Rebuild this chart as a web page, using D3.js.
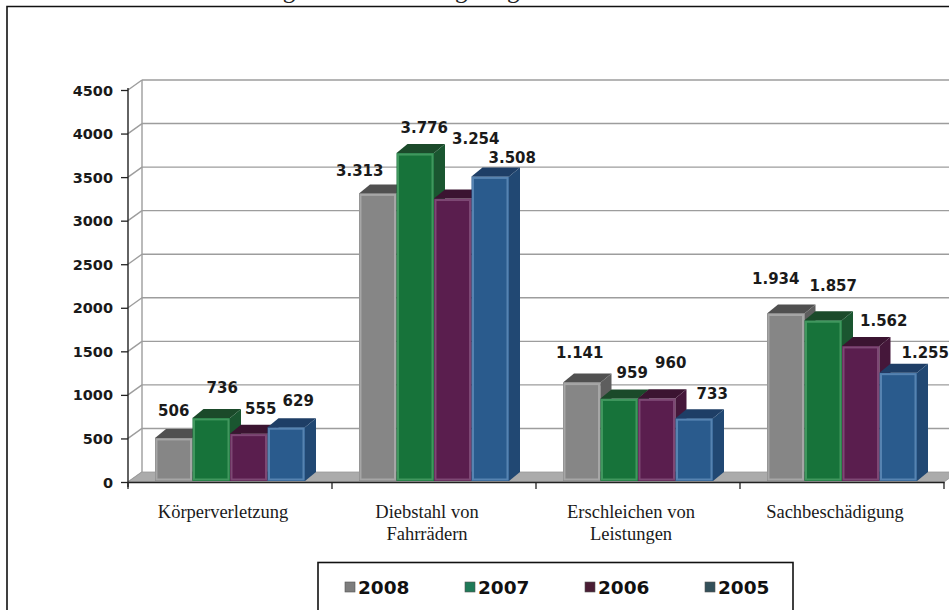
<!DOCTYPE html>
<html><head><meta charset="utf-8">
<script src="https://cdn.jsdelivr.net/npm/d3@7"></script>
<style>body{margin:0;background:#fff}svg{display:block}</style></head>
<body><svg id="c" width="949" height="610"></svg>
<script>
// ---- data ----
const categories = ["Körperverletzung", "Diebstahl von Fahrrädern", "Erschleichen von Leistungen", "Sachbeschädigung"];
const categoryLines = [["Körperverletzung"], ["Diebstahl von", "Fahrrädern"], ["Erschleichen von", "Leistungen"], ["Sachbeschädigung"]];
const years = ["2008", "2007", "2006", "2005"];
const values2008 = [506, 3313, 1141, 1934];
const values2007 = [736, 3776, 959, 1857];
const values2006 = [555, 3254, 960, 1562];
const values2005 = [629, 3508, 733, 1255];
const yTickValues = [0, 500, 1000, 1500, 2000, 2500, 3000, 3500, 4000, 4500];
const titleText = "Abb. 4: Grafische Darstellung der Entwicklung ausgewählter Delikte";

// ---- layout / style (not data) ----
const colors = {
  "2008": {front: "#868686", top: "#505050", side: "#5e5e5e", edge: "#b4b4b4", legend: "#7d7d7d"},
  "2007": {front: "#17733a", top: "#1b4a2a", side: "#1a5630", edge: "#52a66e", legend: "#1f7a58"},
  "2006": {front: "#5a1e4e", top: "#3b1431", side: "#45173a", edge: "#8c5a84", legend: "#4a1d34"},
  "2005": {front: "#2a5b8d", top: "#1e3e66", side: "#214873", edge: "#6a94c0", legend: "#33505a"}
};
// manual label nudges [dx, dy] relative to default placement
const labelNudge = [
  [[0, -13], [11, -16], [12, -11], [12, -12]],
  [[-18, -8], [9, -11], [23, -46], [22, -4]],
  [[-2, -16], [13, -11], [14, -21], [18, -10]],
  [[-10, -21], [10, -20], [23, -11], [27, -6]]
];

const series = {"2008": values2008, "2007": values2007, "2006": values2006, "2005": values2005};
const svg = d3.select("#c");
svg.append("rect").attr("width", 949).attr("height", 610).attr("fill", "#fff");

const x0 = d3.scaleBand().domain(categories).range([128, 944]).padding(0);
const x1 = d3.scaleBand().domain(years).range([27, 177]).padding(0);
const y = d3.scaleLinear().domain([0, 4500]).range([482, 90]);
const W = {dx: 14, dy: -10};   // wall depth
const D = {dx: 11, dy: -9};    // bar depth
const fmt = d3.formatLocale({decimal: ",", thousands: ".", grouping: [3], currency: ["", "€"]}).format(",d");

// title (cut at top edge, as in the reference)
svg.append("text").attr("x", -6).attr("y", -2.5)
  .attr("font-family", "Liberation Serif, serif").attr("font-size", 25).attr("fill", "#222")
  .text(titleText);

// frame
svg.append("path").attr("d", "M7,620 L7,6.5 L960,6.5").attr("fill", "none").attr("stroke", "#111").attr("stroke-width", 1.6);

// walls & gridlines
const grid = svg.append("g").attr("stroke", "#9d9d9d").attr("stroke-width", 1.4).attr("fill", "none");
grid.append("line").attr("x1", 128 + W.dx).attr("x2", 128 + W.dx).attr("y1", y(4500) + W.dy).attr("y2", y(0) + W.dy);
yTickValues.forEach(t => {
  grid.append("line").attr("x1", 128).attr("y1", y(t)).attr("x2", 128 + W.dx).attr("y2", y(t) + W.dy);
  if (t > 0) grid.append("line").attr("x1", 128 + W.dx).attr("y1", y(t) + W.dy).attr("x2", 960).attr("y2", y(t) + W.dy);
});

// floor
const [fx0, fx1] = x0.range();
svg.append("path")
  .attr("d", `M${fx0},${y(0)} L${fx1},${y(0)} L${fx1 + W.dx},${y(0) + W.dy} L${fx0 + W.dx},${y(0) + W.dy} Z`)
  .attr("fill", "#ababab").attr("stroke", "#9a9a9a").attr("stroke-width", 0.8);

// bars
categories.forEach((c, ci) => {
  const g = svg.append("g");
  years.forEach(yr => {
    const v = series[yr][ci];
    const xl = x0(c) + x1(yr), xr = xl + x1.bandwidth();
    const yt = y(v), yb = y(0) - 1;
    const col = colors[yr];
    g.append("rect").attr("x", xl).attr("y", yt).attr("width", xr - xl).attr("height", yb - yt)
      .attr("fill", col.front);
    g.append("rect").attr("x", xl + 1.5).attr("y", yt + 1.5).attr("width", xr - xl - 3).attr("height", yb - yt - 3)
      .attr("fill", "none").attr("stroke", col.edge).attr("stroke-width", 2).attr("stroke-opacity", 0.7);
    g.append("path").attr("d", `M${xl},${yt} L${xl + D.dx},${yt + D.dy} L${xr + D.dx},${yt + D.dy} L${xr},${yt} Z`)
      .attr("fill", col.top);
    g.append("path").attr("d", `M${xr},${yt} L${xr + D.dx},${yt + D.dy} L${xr + D.dx},${yb + D.dy} L${xr},${yb} Z`)
      .attr("fill", col.side);
  });
});

// y axis
const yAxis = d3.axisLeft(y).tickValues(yTickValues).tickSize(7).tickSizeOuter(0).tickPadding(8).tickFormat(d3.format("d"));
const ya = svg.append("g").attr("transform", "translate(128,0)").call(yAxis);
ya.select(".domain").attr("stroke", "#222").attr("stroke-width", 1.4).attr("d", `M0,${y(4500) - 2}V${y(0) + 5}`);
ya.selectAll(".tick line").attr("stroke", "#222").attr("stroke-width", 1.3);
ya.selectAll(".tick text").attr("font-family", "DejaVu Sans, sans-serif").attr("font-weight", "bold")
  .attr("font-size", 14.5).attr("fill", "#1a1a1a").attr("dy", "0.35em");

// x axis
const xAxis = d3.axisBottom(x0).tickSize(0).tickSizeOuter(0).tickFormat("");
const xa = svg.append("g").attr("transform", `translate(0,${y(0)})`).call(xAxis);
xa.select(".domain").attr("stroke", "#222").attr("stroke-width", 1.6);
const bounds = categories.map(c => x0(c)).concat([fx1]);
xa.selectAll(".bound").data(bounds).join("line").attr("class", "bound")
  .attr("x1", d => d).attr("x2", d => d).attr("y1", 0).attr("y2", 7).attr("stroke", "#222").attr("stroke-width", 1.3);

// category labels
categories.forEach((c, ci) => {
  const t = svg.append("text").attr("text-anchor", "middle")
    .attr("font-family", "Liberation Serif, serif").attr("font-size", 18.5).attr("fill", "#1a1a1a");
  categoryLines[ci].forEach((ln, li) => {
    t.append("tspan").attr("x", x0(c) + x0.bandwidth() / 2 - 7).attr("y", 518 + li * 22).text(ln);
  });
});

// data labels
categories.forEach((c, ci) => {
  years.forEach((yr, yi) => {
    const v = series[yr][ci];
    const cx = x0(c) + x1(yr) + x1.bandwidth() / 2;
    const by = y(v) + D.dy;
    const n = labelNudge[ci][yi];
    svg.append("text").attr("x", cx + n[0]).attr("y", by + n[1]).attr("text-anchor", "middle")
      .attr("font-family", "DejaVu Sans, sans-serif").attr("font-weight", "bold").attr("font-size", 15)
      .attr("fill", "#1a1a1a").text(fmt(v));
  });
});

// legend
const lg = svg.append("g");
lg.append("rect").attr("x", 318).attr("y", 562.5).attr("width", 475).attr("height", 60)
  .attr("fill", "#fff").attr("stroke", "#111").attr("stroke-width", 1.6);
const lx = d3.scalePoint().domain(years).range([345, 705]);
years.forEach(yr => {
  lg.append("rect").attr("x", lx(yr)).attr("y", 582).attr("width", 10).attr("height", 10)
    .attr("fill", colors[yr].legend).attr("stroke", "#555").attr("stroke-width", 0.6);
  lg.append("text").attr("x", lx(yr) + 13).attr("y", 594)
    .attr("font-family", "DejaVu Sans, sans-serif").attr("font-weight", "bold").attr("font-size", 18.5)
    .attr("fill", "#111").text(yr);
});
</script>
</body></html>
